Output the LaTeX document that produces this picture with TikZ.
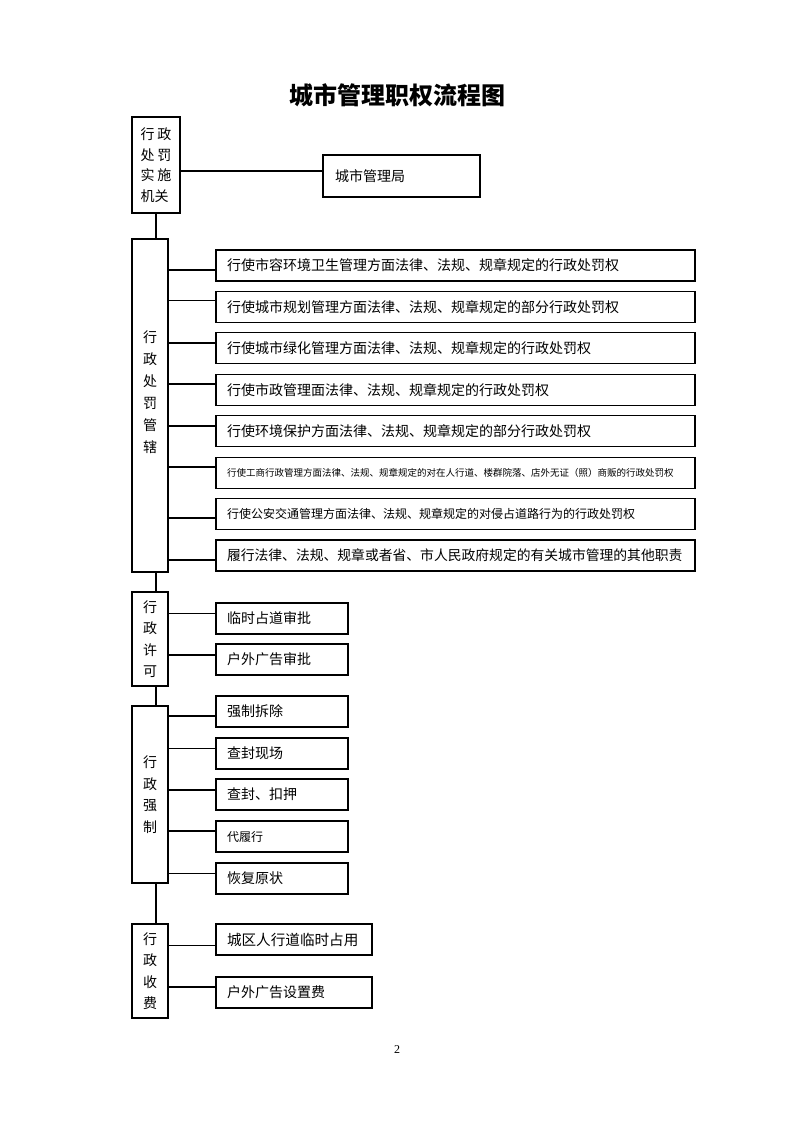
\documentclass[tikz,border=0pt]{standalone}
\usepackage{fontspec}
\setmainfont{Liberation Serif}
\newfontfamily\cjk{Noto Sans CJK SC}
\begin{document}
\begin{tikzpicture}[x=1pt,y=-1pt,
  box/.style={draw, line width=1.1pt, inner sep=0pt, outer sep=0pt},
  lbox/.style={box, anchor=north west, minimum width=36pt, align=center, font={\cjk\fontsize{14}{21.5}\selectfont}},
  rbox/.style={box, anchor=north west, minimum height=31pt, inner xsep=11pt, align=left, font={\cjk\fontsize{14}{16}\selectfont}},
  conn/.style={line width=1.1pt},
]
\fill[white] (0,0) rectangle (793,1122);
\useasboundingbox (0,0) rectangle (793,1122);

\node[font={\cjk\bfseries\fontsize{24}{28}\selectfont}] (title) at (397,95) {城市管理职权流程图};

% left column boxes
\node[box, anchor=north west, minimum width=48pt, minimum height=96pt, text width=31pt, align=left,
      font={\cjk\fontsize{14}{20.5}\selectfont}] (A) at (132,117)
      {行\hspace{3pt}政\\处\hspace{3pt}罚\\实\hspace{3pt}施\\机关};
\node[lbox, minimum height=333pt] (B) at (132,239) {};
\node[font={\cjk\fontsize{14}{22}\selectfont}, align=center] (Bt) at (150,392) {行\\政\\处\\罚\\管\\辖};
\node[lbox, minimum height=94pt] (C) at (132,592) {行\\政\\许\\可};
\node[lbox, minimum height=177pt] (D) at (132,706) {行\\政\\强\\制};
\node[lbox, minimum height=94pt] (E) at (132,924) {行\\政\\收\\费};

% top right box
\node[box, anchor=north west, minimum height=42pt, text width=133pt, inner xsep=12pt, align=left,
      font={\cjk\fontsize{14}{16}\selectfont}] (M) at (323,155) {城市管理局};

% B boxes
\node[rbox, text width=457pt] (r1) at (216,250) {行使市容环境卫生管理方面法律、法规、规章规定的行政处罚权};
\node[rbox, text width=457pt] (r2) at (216,291.4) {行使城市规划管理方面法律、法规、规章规定的部分行政处罚权};
\node[rbox, text width=457pt] (r3) at (216,332.9) {行使城市绿化管理方面法律、法规、规章规定的行政处罚权};
\node[rbox, text width=457pt] (r4) at (216,374.3) {行使市政管理面法律、法规、规章规定的行政处罚权};
\node[rbox, text width=457pt] (r5) at (216,415.7) {行使环境保护方面法律、法规、规章规定的部分行政处罚权};
\node[rbox, text width=457pt, font={\cjk\fontsize{9.5}{11}\selectfont}] (r6) at (216,457.1) {行使工商行政管理方面法律、法规、规章规定的对在人行道、楼群院落、店外无证（照）商贩的行政处罚权};
\node[rbox, text width=457pt, font={\cjk\fontsize{12}{14}\selectfont}] (r7) at (216,498.6) {行使公安交通管理方面法律、法规、规章规定的对侵占道路行为的行政处罚权};
\node[rbox, text width=457pt, font={\cjk\fontsize{13.8}{16}\selectfont}] (r8) at (216,540) {履行法律、法规、规章或者省、市人民政府规定的有关城市管理的其他职责};

% C boxes
\node[rbox, text width=110pt] (c1) at (216,603) {临时占道审批};
\node[rbox, text width=110pt] (c2) at (216,644) {户外广告审批};

% D boxes
\node[rbox, text width=110pt] (d1) at (216,696) {强制拆除};
\node[rbox, text width=110pt] (d2) at (216,738) {查封现场};
\node[rbox, text width=110pt] (d3) at (216,779) {查封、扣押};
\node[rbox, text width=110pt, font={\cjk\fontsize{12}{14}\selectfont}] (d4) at (216,821) {代履行};
\node[rbox, text width=110pt] (d5) at (216,863) {恢复原状};

% E boxes
\node[rbox, text width=134pt, font={\cjk\fontsize{14.6}{16}\selectfont}] (e1) at (216,924) {城区人行道临时占用};
\node[rbox, text width=134pt] (e2) at (216,977) {户外广告设置费};

% connectors
\coordinate (mA) at ([yshift=-6pt]A.east);
\draw[conn] (mA) -- (mA -| M.west);

\draw[conn] (A.south) -- (A.south |- B.north);
\draw[conn] (A.south |- B.south) -- (A.south |- C.north);
\draw[conn] (A.south |- C.south) -- (A.south |- D.north);
\draw[conn] (A.south |- D.south) -- (A.south |- E.north);

\foreach \n/\p/\s in {r1/B/-4.5, r2/B/6, r3/B/5.4, r4/B/5.8, r5/B/5.2, r6/B/5.6, r7/B/-3.9, r8/B/-4.5,
                      c1/C/5, c2/C/4.5,
                      d1/D/-4.5, d2/D/5, d3/D/4.5, d4/D/5.5, d5/D/5,
                      e1/E/-6, e2/E/5.5} {
  \coordinate (k\n) at ([yshift=\s pt]\n.west);
  \draw[conn] (k\n) -- (\p.east |- k\n);
}

\node[font=\fontsize{12}{14}\selectfont] (pg) at (397,1050) {2};
\end{tikzpicture}
\end{document}
